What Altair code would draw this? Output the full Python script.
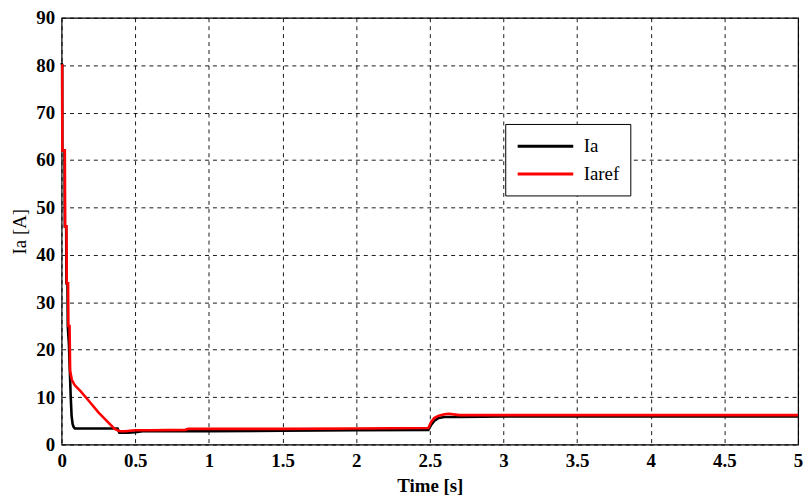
import altair as alt
import pandas as pd

# Ia (black)
t_ia = [0.0, 0.004, 0.005, 0.02, 0.022, 0.031, 0.033, 0.04, 0.042, 0.05, 0.056, 0.062,
        0.068, 0.075, 0.082, 0.09, 0.2, 0.38, 0.392, 0.45, 0.5, 0.55, 0.8, 1.0, 1.5,
        2.0, 2.49, 2.51, 2.53, 2.56, 2.6, 2.7, 3.0, 4.0, 5.0]
v_ia = [80.5, 80.0, 62.0, 62.0, 46.0, 46.0, 34.0, 34.0, 25.0, 21.0, 15.5, 10.0,
        6.0, 4.3, 3.7, 3.4, 3.4, 3.4, 2.5, 2.5, 2.6, 2.8, 2.8, 2.8, 2.9,
        3.0, 3.1, 4.2, 5.0, 5.6, 5.8, 5.8, 5.9, 5.9, 5.9]

# Iaref (red)
t_ref = [0.0, 0.004, 0.005, 0.022, 0.024, 0.033, 0.035, 0.044, 0.046, 0.054, 0.058,
         0.07, 0.09, 0.13, 0.18, 0.25, 0.36, 0.395, 0.43, 0.5, 0.6, 0.84, 0.86, 1.5,
         2.0, 2.49, 2.51, 2.53, 2.56, 2.6, 2.63, 2.7, 3.0, 4.0, 5.0]
v_ref = [80.0, 80.0, 62.0, 62.0, 46.0, 46.0, 34.0, 34.0, 25.0, 25.0, 15.5,
         13.6, 12.5, 11.2, 9.4, 6.8, 3.3, 2.8, 2.8, 3.0, 3.0, 3.1, 3.3, 3.3,
         3.4, 3.5, 4.8, 5.6, 6.1, 6.4, 6.5, 6.2, 6.2, 6.2, 6.2]

df_ia = pd.DataFrame({"t": t_ia, "v": v_ia, "series": "Ia"})
df_ref = pd.DataFrame({"t": t_ref, "v": v_ref, "series": "Iaref"})

x_ticks = [0, 0.5, 1, 1.5, 2, 2.5, 3, 3.5, 4, 4.5, 5]
y_ticks = [0, 10, 20, 30, 40, 50, 60, 70, 80, 90]

color = alt.Color(
    "series:N",
    scale=alt.Scale(domain=["Ia", "Iaref"], range=["#000000", "#ff0000"]),
    legend=alt.Legend(
        title=None,
        orient="none",
        legendX=447,
        legendY=107,
        direction="vertical",
        symbolType="M-2.8,0L2.8,0",
        symbolSize=400,
        symbolStrokeWidth=3,
        symbolOffset=18,
        labelFont="Liberation Serif",
        labelFontSize=19,
        labelColor="#000000",
        labelOffset=27,
        rowPadding=6,
        strokeColor="#000000",
        fillColor="#ffffff",
        padding=11,
        cornerRadius=0,
        labelLimit=200,
    ),
)

x = alt.X(
    "t:Q",
    scale=alt.Scale(domain=[0, 5], nice=False),
    axis=alt.Axis(values=x_ticks, format="~g", title="Time [s]"),
)
y = alt.Y(
    "v:Q",
    scale=alt.Scale(domain=[0, 90], nice=False),
    axis=alt.Axis(values=y_ticks, format="d", title="Ia [A]",
                  titleFontWeight="normal"),
)

base_ia = alt.Chart(df_ia).mark_line(strokeWidth=2.6, interpolate="linear").encode(
    x=x, y=y, color=color, order="t:Q"
)
base_ref = alt.Chart(df_ref).mark_line(strokeWidth=2.6, interpolate="linear").encode(
    x=x, y=y, color=color, order="t:Q"
)

chart = (
    alt.layer(base_ia, base_ref)
    .properties(
        width=742,
        height=430,
        autosize=alt.AutoSizeParams(type="none"),
        padding={"left": 54, "top": 8, "right": 6, "bottom": 50},
        background="#ffffff",
    )
    .configure_view(stroke="#000000", strokeWidth=1.2)
    .configure_axis(
        domain=False,
        ticks=False,
        grid=True,
        gridColor="#000000",
        gridDash=[4, 4],
        gridOpacity=0.9,
        gridWidth=1,
        labelFont="Liberation Serif",
        labelFontSize=19,
        labelFontWeight="bold",
        labelColor="#000000",
        labelPadding=7,
        titleFont="Liberation Serif",
        titleFontSize=19,
        titleFontWeight="bold",
        titleColor="#000000",
    )
    .configure_axisX(titlePadding=6, labelPadding=7, labelFlush=False)
    .configure_axisY(titlePadding=6, labelFlush=False)
)

chart.save("out.html", embed_options={"renderer": "svg", "actions": False})
